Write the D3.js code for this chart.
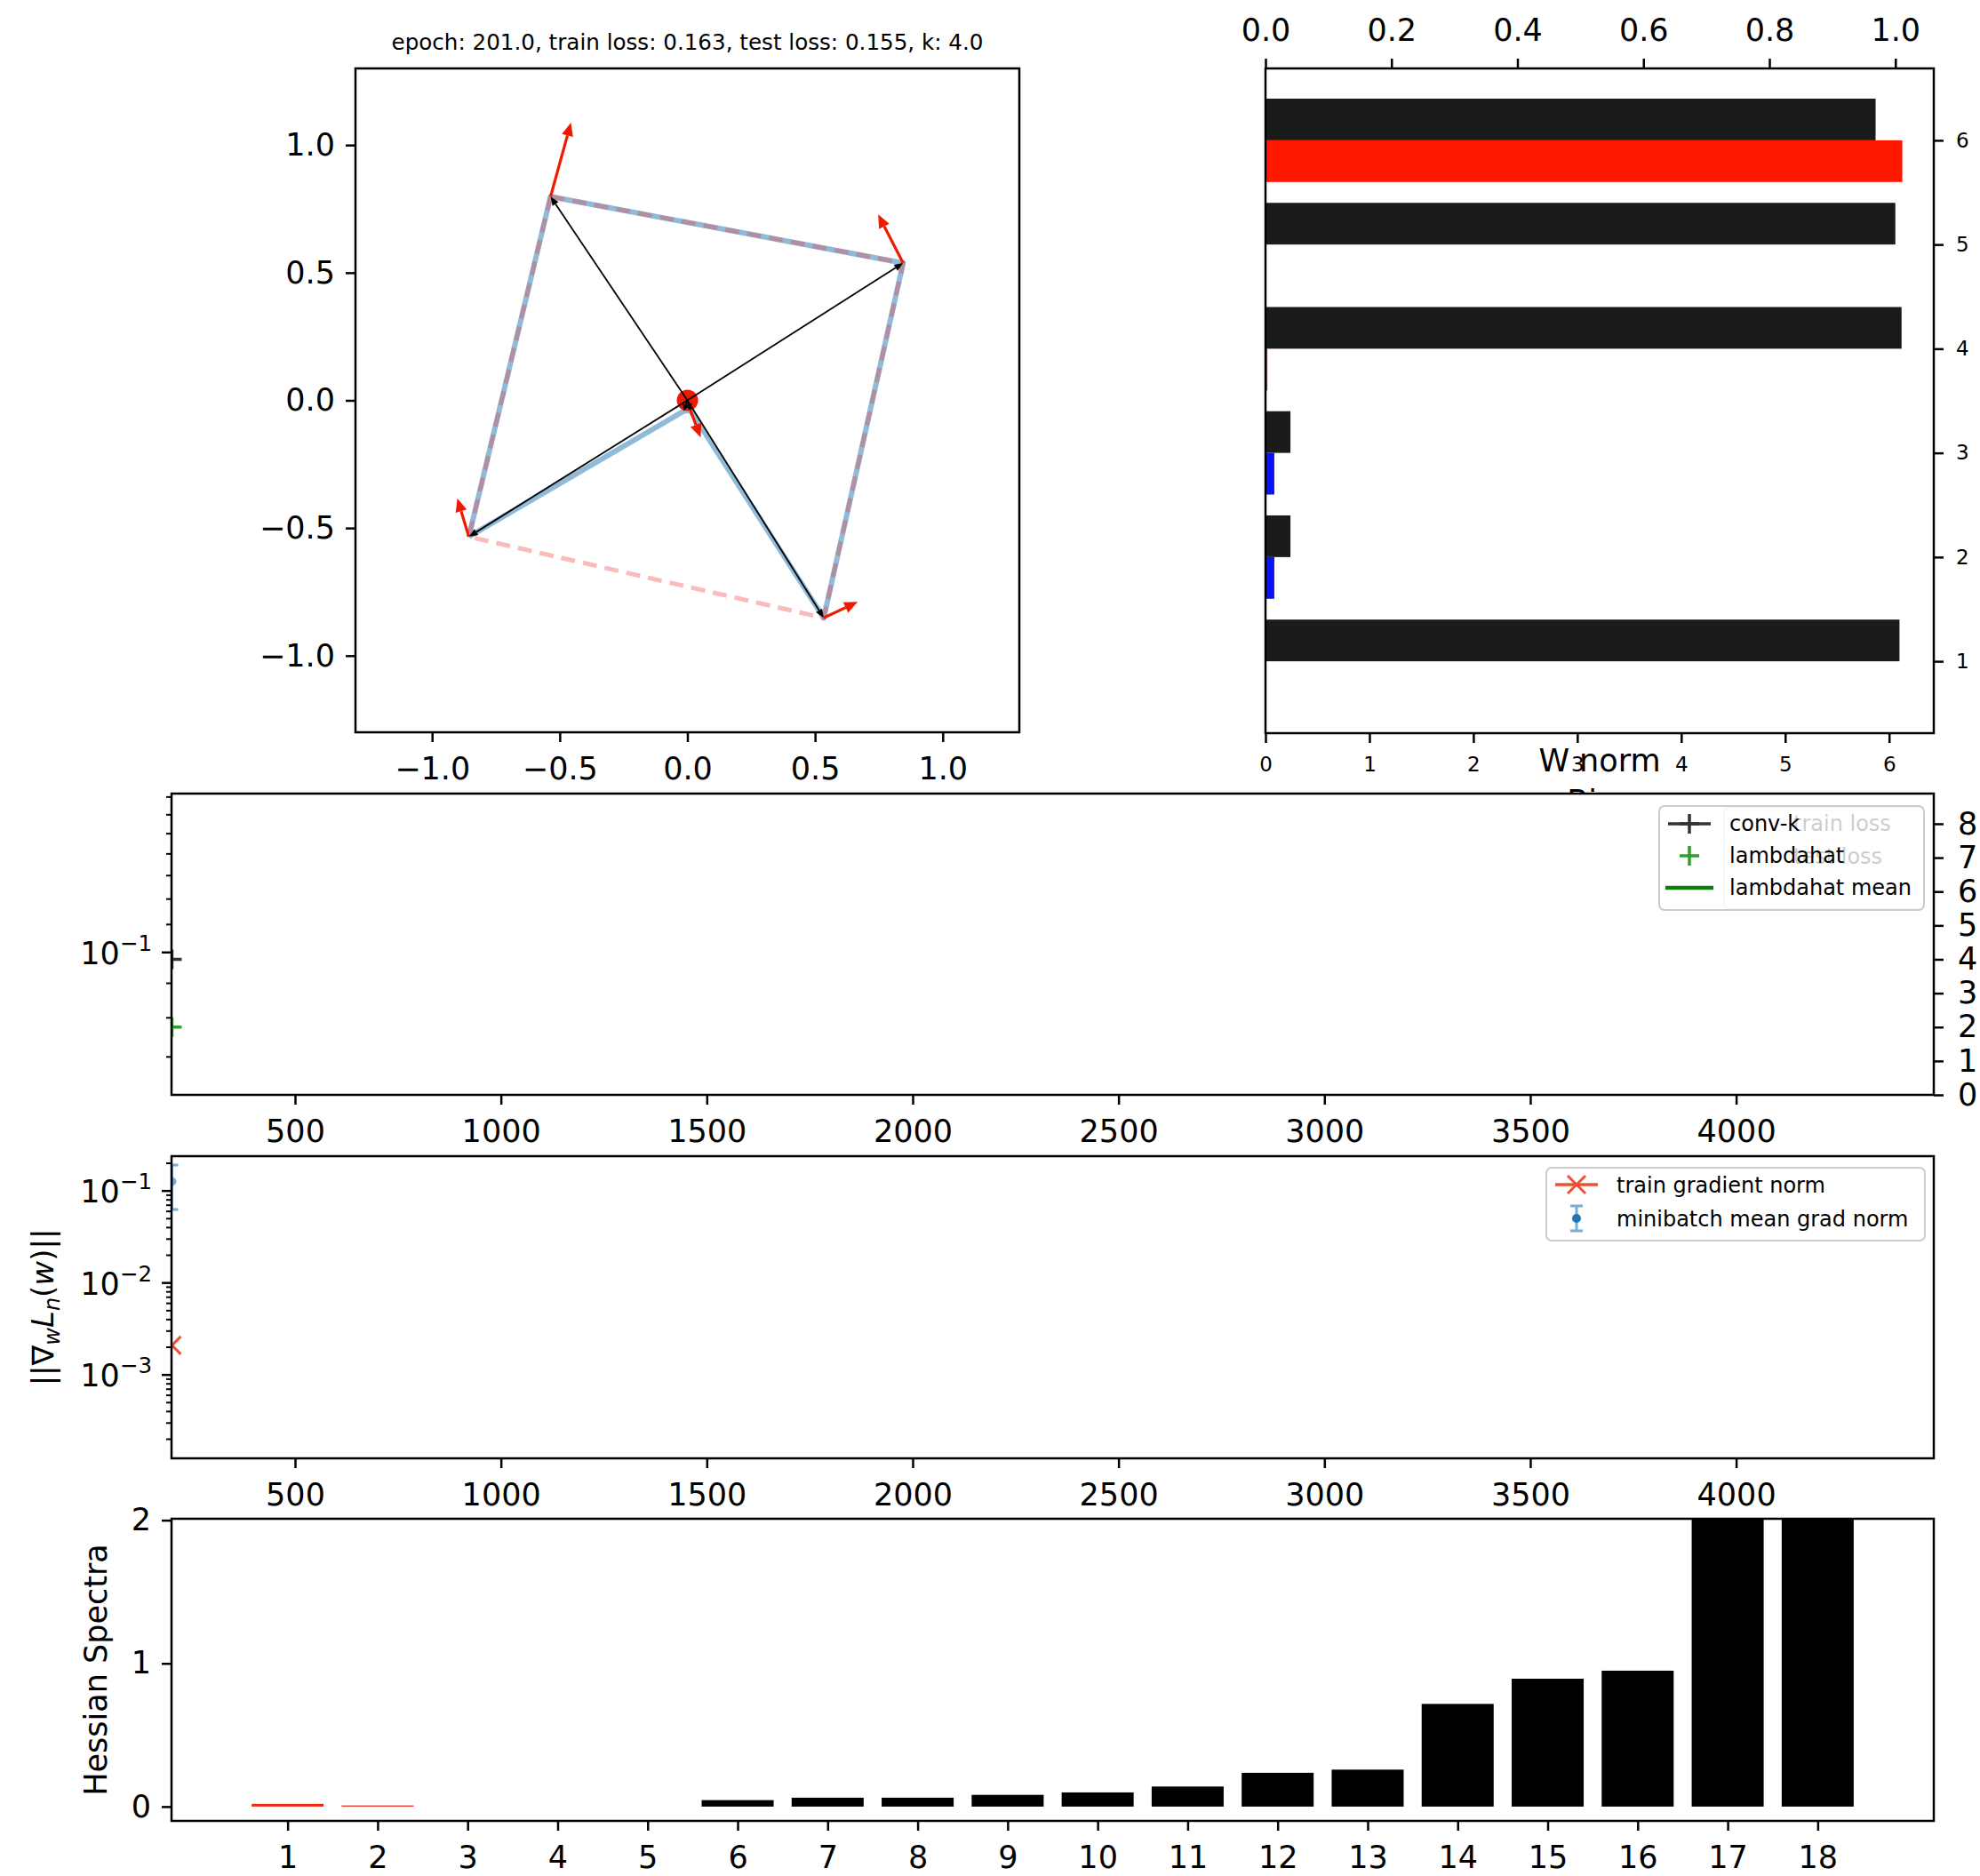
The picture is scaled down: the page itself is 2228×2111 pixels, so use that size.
<!DOCTYPE html>
<html>
<head>
<meta charset="utf-8">
<script src="https://cdn.jsdelivr.net/npm/d3@7"></script>
<style>
  body { margin: 0; background: #fff; }
  svg { font-family: "DejaVu Sans", sans-serif; }
</style>
</head>
<body>
<svg id="fig" width="2228" height="2111"></svg>
<script>
// ---- datos ----
const titleText = "epoch: 201.0, train loss: 0.163, test loss: 0.155, k: 4.0";

// columnas de W (x, y) y su gradiente
const wCols = [[-0.856, -0.534], [-0.014, -0.042], [0.012, -0.040], [0.534, -0.852], [0.845, 0.538], [-0.536, 0.798]];
const gradCols = [[-0.045, 0.15], [0, 0], [0.04, -0.105], [0.133, 0.063], [-0.098, 0.19], [0.08, 0.29]];
const hullIdx = [5, 4, 3, 0];
const scatterTicks = [-1.0, -0.5, 0.0, 0.5, 1.0];

// barras horizontales
const rows = [1, 2, 3, 4, 5, 6];
const wNorm = [6.10, 0.24, 0.24, 6.12, 6.06, 5.87];
const bias = [0, -0.014, -0.014, 0.003, 0, 1.011];
const normTicks = [0, 1, 2, 3, 4, 5, 6];
const biasTicks = [0.0, 0.2, 0.4, 0.6, 0.8, 1.0];

// curvas de entrenamiento
const epochs = [201];
const convK = [4.0];
const lambdahat = [2.0];
const trainGradNorm = [0.0021];
const mbGradMean = [0.127];
const mbGradStd = [0.064];
const epochTicks = [500, 1000, 1500, 2000, 2500, 3000, 3500, 4000];
const kTicks = [0, 1, 2, 3, 4, 5, 6, 7, 8];

// espectro del hessiano (negativos en rojo)
const eigIdx = d3.range(1, 19);
const hessVals = [-0.019, -0.008, 0, 0, 0, 0.045, 0.062, 0.062, 0.082, 0.099, 0.14, 0.236, 0.258, 0.717, 0.893, 0.949, 2.6, 3.2];
const hessTicks = [0, 1, 2];

const svg = d3.select("#fig");
const FONT = "DejaVu Sans, sans-serif";
const TICK = 35;
const fmtInt = d3.format("d");

function styleAxis(g, size) {
  g.attr("font-family", FONT).attr("font-size", size);
  g.select(".domain").remove();
  g.selectAll(".tick line").attr("stroke", "#000").attr("stroke-width", 2.5);
  g.selectAll(".tick text").attr("fill", "#000");
}
function frame(b) {
  svg.append("rect")
    .attr("x", b.x0).attr("y", b.y0)
    .attr("width", b.x1 - b.x0).attr("height", b.y1 - b.y0)
    .attr("fill", "none").attr("stroke", "#000").attr("stroke-width", 2.5);
}
function background(b) {
  svg.append("rect")
    .attr("x", b.x0).attr("y", b.y0)
    .attr("width", b.x1 - b.x0).attr("height", b.y1 - b.y0)
    .attr("fill", "#fff");
}
function clipped(id, b) {
  svg.append("clipPath").attr("id", id).append("rect")
    .attr("x", b.x0).attr("y", b.y0)
    .attr("width", b.x1 - b.x0).attr("height", b.y1 - b.y0);
  return svg.append("g").attr("clip-path", `url(#${id})`);
}
function arrow(g, xs, ys, p0, p1, color, width, headL, headW) {
  const ax = xs(p0[0]), ay = ys(p0[1]), bx = xs(p1[0]), by = ys(p1[1]);
  const dx = bx - ax, dy = by - ay, len = Math.hypot(dx, dy);
  if (len < 1) return;
  const ux = dx / len, uy = dy / len;
  const hl = Math.min(headL, len * 0.6);
  const cx = bx - ux * hl, cy = by - uy * hl;
  g.append("line")
    .attr("x1", ax).attr("y1", ay).attr("x2", cx).attr("y2", cy)
    .attr("stroke", color).attr("stroke-width", width);
  g.append("path")
    .attr("d", `M${bx},${by}L${cx - uy * headW},${cy + ux * headW}L${cx + uy * headW},${cy - ux * headW}Z`)
    .attr("fill", color);
}
// etiqueta tipo 10^{n}
function powLabel(g, x, y, exp, size) {
  const t = g.append("text").attr("x", x).attr("y", y)
    .attr("text-anchor", "end").attr("font-size", size).attr("font-family", FONT);
  t.append("tspan").text("10");
  t.append("tspan").attr("font-size", size * 0.7).attr("dy", -size * 0.42).text("\u2212" + Math.abs(exp));
}
function logLeftAxis(b, ys, labelled) {
  const g = svg.append("g");
  ys.ticks().forEach(v => {
    const e = Math.round(Math.log10(v));
    const major = Math.abs(Math.log10(v) - e) < 1e-9;
    const y = ys(v);
    g.append("line").attr("x1", b.x0).attr("x2", b.x0 - (major ? 11 : 6))
      .attr("y1", y).attr("y2", y).attr("stroke", "#000").attr("stroke-width", major ? 2.5 : 2);
    if (major && labelled.includes(e)) powLabel(g, b.x0 - 22, y + 13, e, TICK);
  });
}

// ================= 1) scatter de columnas =================
const b1 = { x0: 400, x1: 1147, y0: 77, y1: 824 };
const sx = d3.scaleLinear().domain([-1.3, 1.3]).range([b1.x0, b1.x1]);
const sy = d3.scaleLinear().domain([-1.3, 1.3]).range([b1.y1, b1.y0]);

svg.append("text").attr("x", (b1.x0 + b1.x1) / 2).attr("y", 56)
  .attr("text-anchor", "middle").attr("font-size", 24.6).text(titleText);

const g1 = clipped("c1", b1);
const line = d3.line().x(d => sx(d[0])).y(d => sy(d[1]));
g1.append("path").datum([...wCols, wCols[0]]).attr("d", line)
  .attr("fill", "none").attr("stroke", "#1f77b4").attr("stroke-opacity", 0.5)
  .attr("stroke-width", 6).attr("stroke-linejoin", "round");
g1.append("path").datum([...hullIdx.map(i => wCols[i]), wCols[hullIdx[0]]]).attr("d", line)
  .attr("fill", "none").attr("stroke", "#f03c3c").attr("stroke-opacity", 0.35)
  .attr("stroke-width", 5).attr("stroke-dasharray", "16,9");
g1.append("circle").attr("cx", sx(0)).attr("cy", sy(0)).attr("r", 12).attr("fill", "#f01a00");
wCols.forEach(c => arrow(g1, sx, sy, [0, 0], c, "#000", 1.8, 10, 4));
wCols.forEach((c, i) => {
  const gr = gradCols[i];
  arrow(g1, sx, sy, c, [c[0] + gr[0], c[1] + gr[1]], "#f01a00", 3.2, 15, 6.5);
});
frame(b1);
svg.append("g").attr("transform", `translate(0,${b1.y1})`)
  .call(d3.axisBottom(sx).tickValues(scatterTicks).tickFormat(d3.format(".1f")).tickSize(11).tickPadding(17))
  .call(g => styleAxis(g, TICK));
svg.append("g").attr("transform", `translate(${b1.x0},0)`)
  .call(d3.axisLeft(sy).tickValues(scatterTicks).tickFormat(d3.format(".1f")).tickSize(11).tickPadding(12))
  .call(g => styleAxis(g, TICK));

// ================= 2) barras de norma / bias =================
const b2 = { x0: 1424, x1: 2176, y0: 77, y1: 825 };
const nx = d3.scaleLinear().domain([0, 6.43]).range([b2.x0, b2.x1]);
const bx = d3.scaleLinear().domain([0, 1.061]).range([b2.x0, b2.x1]);
const ry = d3.scaleLinear().domain([0.31, 6.69]).range([b2.y1, b2.y0]);

// etiqueta "Bias", casi tapada por el panel de abajo
svg.append("text").attr("x", (b2.x0 + b2.x1) / 2).attr("y", 914)
  .attr("text-anchor", "middle").attr("font-size", 35).text("Bias");

const g2 = clipped("c2", b2);
g2.selectAll(".wn").data(rows).enter().append("rect")
  .attr("x", nx(0)).attr("width", (d, i) => nx(wNorm[i]) - nx(0))
  .attr("y", d => ry(d + 0.4)).attr("height", ry(0) - ry(0.4))
  .attr("fill", "#1a1c19");
g2.selectAll(".bi").data(rows).enter().append("rect")
  .attr("x", bx(0)).attr("width", (d, i) => bx(Math.abs(bias[i])) - bx(0))
  .attr("y", d => ry(d)).attr("height", ry(0) - ry(0.4))
  .attr("fill", (d, i) => bias[i] < 0 ? "#0a14f0" : "#ff1800");
frame(b2);
svg.append("g").attr("transform", `translate(0,${b2.y1})`)
  .call(d3.axisBottom(nx).tickValues(normTicks).tickFormat(fmtInt).tickSize(11).tickPadding(16))
  .call(g => styleAxis(g, 23));
svg.append("g").attr("transform", `translate(0,${b2.y0})`)
  .call(d3.axisTop(bx).tickValues(biasTicks).tickFormat(d3.format(".1f")).tickSize(11).tickPadding(20))
  .call(g => styleAxis(g, TICK));
svg.append("g").attr("transform", `translate(${b2.x1},0)`)
  .call(d3.axisRight(ry).tickValues(rows).tickFormat(fmtInt).tickSize(11).tickPadding(14))
  .call(g => styleAxis(g, 23));
svg.append("text").attr("x", (b2.x0 + b2.x1) / 2).attr("y", 868)
  .attr("text-anchor", "middle").attr("font-size", 35).text("W norm");

// ================= 3) conv-k / lambdahat =================
const b3 = { x0: 193, x1: 2176, y0: 893, y1: 1232 };
const ex = d3.scaleLinear().domain([200, 4480]).range([b3.x0, b3.x1]);
const ly3 = d3.scaleLog().domain([0.0615, 0.172]).range([b3.y1, b3.y0]);
const ky = d3.scaleLinear().domain([0, 8.89]).range([b3.y1, b3.y0]);
background(b3);
const g3 = clipped("c3", b3);
g3.selectAll(".ck").data(epochs).enter().append("path")
  .attr("d", "M-11,0H11M0,-11V11")
  .attr("transform", (d, i) => `translate(${ex(d)},${ky(convK[i])})`)
  .attr("stroke", "#333").attr("stroke-width", 3.5);
g3.selectAll(".lh").data(epochs).enter().append("path")
  .attr("d", "M-11,0H11M0,-11V11")
  .attr("transform", (d, i) => `translate(${ex(d)},${ky(lambdahat[i])})`)
  .attr("stroke", "#2e9e2e").attr("stroke-width", 3.5);
frame(b3);
svg.append("g").attr("transform", `translate(0,${b3.y1})`)
  .call(d3.axisBottom(ex).tickValues(epochTicks).tickFormat(fmtInt).tickSize(11).tickPadding(17))
  .call(g => styleAxis(g, TICK));
svg.append("g").attr("transform", `translate(${b3.x1},0)`)
  .call(d3.axisRight(ky).tickValues(kTicks).tickFormat(fmtInt).tickSize(11).tickPadding(16))
  .call(g => styleAxis(g, TICK));
logLeftAxis(b3, ly3, [-1]);

// leyenda fantasma de otro eje, debajo de la leyenda principal
svg.append("rect").attr("x", 1940).attr("y", 908).attr("width", 225).attr("height", 115)
  .attr("rx", 6).attr("fill", "#fff").attr("stroke", "#ccc").attr("stroke-width", 2);
["train loss", "test loss"].forEach((t, i) => {
  svg.append("text").attr("x", 2018).attr("y", 935 + i * 36.5).attr("font-size", 24).attr("fill", "#000").text(t);
});
const leg3 = svg.append("g");
leg3.append("rect").attr("x", 1867).attr("y", 907).attr("width", 298).attr("height", 117)
  .attr("rx", 6).attr("fill", "#fff").attr("fill-opacity", 0.8).attr("stroke", "#ccc").attr("stroke-width", 2);
const leg3Rows = ["conv-k", "lambdahat", "lambdahat mean"];
leg3Rows.forEach((t, i) => {
  leg3.append("text").attr("x", 1946).attr("y", 935 + i * 36).attr("font-size", 24).text(t);
});
leg3.append("line").attr("x1", 1877).attr("x2", 1925).attr("y1", 927).attr("y2", 927)
  .attr("stroke", "#333").attr("stroke-width", 3.5);
leg3.append("path").attr("d", "M-11,0H11M0,-11V11").attr("transform", "translate(1901,927)")
  .attr("stroke", "#333").attr("stroke-width", 3.5);
leg3.append("path").attr("d", "M-11,0H11M0,-11V11").attr("transform", "translate(1901,963)")
  .attr("stroke", "#2e9e2e").attr("stroke-width", 3.5);
leg3.append("line").attr("x1", 1874).attr("x2", 1928).attr("y1", 999).attr("y2", 999)
  .attr("stroke", "#0a800a").attr("stroke-width", 4.5);

// ================= 4) norma del gradiente =================
const b4 = { x0: 193, x1: 2176, y0: 1301, y1: 1641 };
const gy = d3.scaleLog().domain([1.24e-4, 0.239]).range([b4.y1, b4.y0]);
background(b4);
const g4 = clipped("c4", b4);
g4.selectAll(".tg").data(epochs).enter().append("path")
  .attr("d", "M-10,-10L10,10M-10,10L10,-10")
  .attr("transform", (d, i) => `translate(${ex(d)},${gy(trainGradNorm[i])})`)
  .attr("stroke", "#ef5035").attr("stroke-width", 3);
const eb = g4.selectAll(".mb").data(epochs).enter().append("g")
  .attr("stroke", "#1f77b4").attr("stroke-opacity", 0.6).attr("stroke-width", 3);
eb.append("line").attr("x1", d => ex(d)).attr("x2", d => ex(d))
  .attr("y1", (d, i) => gy(mbGradMean[i] - mbGradStd[i])).attr("y2", (d, i) => gy(mbGradMean[i] + mbGradStd[i]));
eb.append("path").attr("d", (d, i) => {
  const x = ex(d), lo = gy(mbGradMean[i] - mbGradStd[i]), hi = gy(mbGradMean[i] + mbGradStd[i]);
  return `M${x - 7},${lo}H${x + 7}M${x - 7},${hi}H${x + 7}`;
});
eb.append("circle").attr("cx", d => ex(d)).attr("cy", (d, i) => gy(mbGradMean[i])).attr("r", 5)
  .attr("fill", "#1f77b4").attr("fill-opacity", 0.6).attr("stroke", "none");
frame(b4);
svg.append("g").attr("transform", `translate(0,${b4.y1})`)
  .call(d3.axisBottom(ex).tickValues(epochTicks).tickFormat(fmtInt).tickSize(11).tickPadding(17))
  .call(g => styleAxis(g, TICK));
logLeftAxis(b4, gy, [-1, -2, -3]);

const yl4 = svg.append("text").attr("transform", `translate(60,${(b4.y0 + b4.y1) / 2}) rotate(-90)`)
  .attr("text-anchor", "middle").attr("font-size", 34);
yl4.append("tspan").text("||\u2207");
yl4.append("tspan").attr("font-style", "italic").attr("font-size", 24).attr("dy", 7).text("w");
yl4.append("tspan").attr("font-style", "italic").attr("dy", -7).text("L");
yl4.append("tspan").attr("font-style", "italic").attr("font-size", 24).attr("dy", 7).text("n");
yl4.append("tspan").attr("dy", -7).text("(");
yl4.append("tspan").attr("font-style", "italic").text("w");
yl4.append("tspan").text(")||");

const leg4 = svg.append("g");
leg4.append("rect").attr("x", 1740).attr("y", 1314).attr("width", 426).attr("height", 82)
  .attr("rx", 6).attr("fill", "#fff").attr("fill-opacity", 0.8).attr("stroke", "#ccc").attr("stroke-width", 2);
["train gradient norm", "minibatch mean grad norm"].forEach((t, i) => {
  leg4.append("text").attr("x", 1819).attr("y", 1342 + i * 38).attr("font-size", 24).text(t);
});
leg4.append("line").attr("x1", 1750).attr("x2", 1798).attr("y1", 1333).attr("y2", 1333)
  .attr("stroke", "#ef5035").attr("stroke-width", 3.5);
leg4.append("path").attr("d", "M-10,-10L10,10M-10,10L10,-10").attr("transform", "translate(1774,1333)")
  .attr("stroke", "#ef5035").attr("stroke-width", 3);
const lg4e = leg4.append("g").attr("stroke", "#1f77b4").attr("stroke-opacity", 0.6).attr("stroke-width", 3);
lg4e.append("path").attr("d", "M1774,1357V1385M1767,1357H1781M1767,1385H1781");
lg4e.append("circle").attr("cx", 1774).attr("cy", 1371).attr("r", 5).attr("fill", "#1f77b4").attr("stroke", "none");

// ================= 5) espectro del hessiano =================
const b5 = { x0: 193, x1: 2176, y0: 1709, y1: 2049 };
const hx = d3.scaleLinear().domain([-0.29, 19.29]).range([b5.x0, b5.x1]);
const hy = d3.scaleLinear().domain([-0.1, 2.01]).range([b5.y1, b5.y0]);
background(b5);
const g5 = clipped("c5", b5);
g5.selectAll(".hb").data(eigIdx).enter().append("rect")
  .attr("x", d => hx(d - 0.4)).attr("width", hx(0.8) - hx(0))
  .attr("y", (d, i) => hy(Math.abs(hessVals[i]))).attr("height", (d, i) => hy(0) - hy(Math.abs(hessVals[i])))
  .attr("fill", (d, i) => hessVals[i] < 0 ? "#f02a10" : "#000");
frame(b5);
svg.append("g").attr("transform", `translate(0,${b5.y1})`)
  .call(d3.axisBottom(hx).tickValues(eigIdx).tickFormat(fmtInt).tickSize(11).tickPadding(17))
  .call(g => styleAxis(g, TICK));
svg.append("g").attr("transform", `translate(${b5.x0},0)`)
  .call(d3.axisLeft(hy).tickValues(hessTicks).tickFormat(fmtInt).tickSize(11).tickPadding(12))
  .call(g => styleAxis(g, TICK));
svg.append("text").attr("transform", `translate(120,${(b5.y0 + b5.y1) / 2}) rotate(-90)`)
  .attr("text-anchor", "middle").attr("font-size", 35).text("Hessian Spectra");
</script>
</body>
</html>
